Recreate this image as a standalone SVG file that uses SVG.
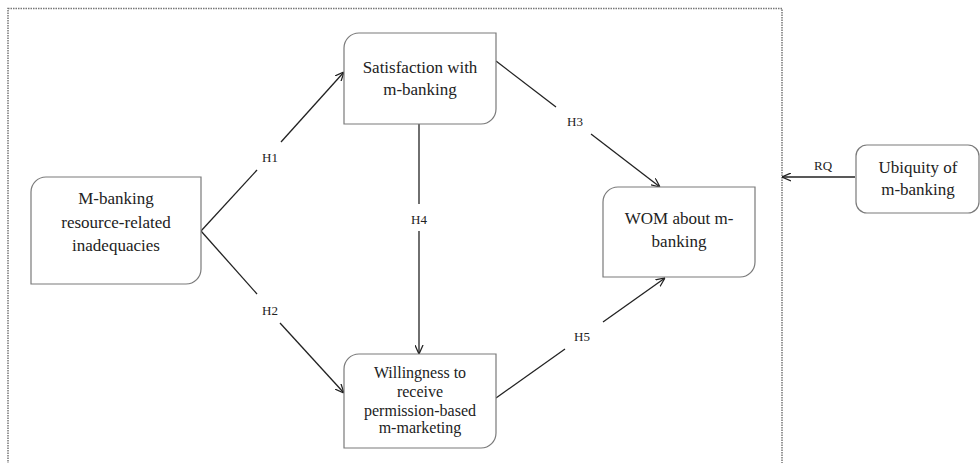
<svg xmlns="http://www.w3.org/2000/svg" width="980" height="463" viewBox="0 0 980 463">
<style>
.box{fill:#fff;stroke:#7a7a7a;stroke-width:1.2}
text{font-family:'Liberation Serif',serif}
.t{font-size:17px;fill:#222;text-anchor:middle}
.t16{font-size:16px}
.lab{font-size:13px;fill:#222;text-anchor:middle}
.c{stroke:#222;stroke-width:1.3;fill:none}
.frame{fill:none;stroke:#777;stroke-width:1.5;stroke-dasharray:1.5 1}
</style>
<defs>
<marker id="ah" viewBox="0 0 10 10" refX="10" refY="5" markerWidth="9" markerHeight="9" markerUnits="userSpaceOnUse" orient="auto">
<path d="M0,0.5 L10,5 L0,9.5" fill="none" stroke="#222" stroke-width="1.4"/>
</marker>
</defs>
<rect width="980" height="463" fill="#fff"/>
<rect id="frame" class="frame" x="8" y="8.5" width="774" height="470"/>

<g id="connectors" font-family="Liberation Serif, serif">
<g id="h1">
<line class="c" x1="201" y1="231" x2="257" y2="170"/>
<line class="c" x1="281" y1="142" x2="344" y2="72" marker-end="url(#ah)"/>
<text class="lab" x="270" y="162">H1</text>
</g>
<g id="h2">
<line class="c" x1="201" y1="231" x2="257" y2="294"/>
<line class="c" x1="280" y1="323" x2="344" y2="393" marker-end="url(#ah)"/>
<text class="lab" x="270" y="315">H2</text>
</g>
<g id="h4">
<line class="c" x1="419" y1="124" x2="419" y2="204"/>
<line class="c" x1="419" y1="231" x2="419" y2="354" marker-end="url(#ah)"/>
<text class="lab" x="419" y="224">H4</text>
</g>
<g id="h3">
<line class="c" x1="496" y1="61" x2="556" y2="107"/>
<line class="c" x1="591" y1="134" x2="660" y2="187" marker-end="url(#ah)"/>
<text class="lab" x="575" y="126">H3</text>
</g>
<g id="h5">
<line class="c" x1="496" y1="398" x2="565" y2="349"/>
<line class="c" x1="603" y1="322" x2="665" y2="278" marker-end="url(#ah)"/>
<text class="lab" x="582" y="341">H5</text>
</g>
<g id="rq">
<line class="c" x1="855" y1="177" x2="782" y2="177" marker-end="url(#ah)"/>
<text class="lab" x="823" y="170">RQ</text>
</g>
</g>

<g id="node-resource" font-family="Liberation Serif, serif">
<path class="box" d="M31,192 A15,15 0 0 1 46,177 H201 V269 A15,15 0 0 1 186,284 H31 Z"/>
<text class="t" x="116" y="204">M-banking</text>
<text class="t" x="116" y="228">resource-related</text>
<text class="t" x="116" y="251">inadequacies</text>
</g>

<g id="node-satisfaction" font-family="Liberation Serif, serif">
<path class="box" d="M344,48 A15,15 0 0 1 359,33 H496 V109 A15,15 0 0 1 481,124 H344 Z"/>
<text class="t" x="420" y="73">Satisfaction with</text>
<text class="t" x="420" y="95">m-banking</text>
</g>

<g id="node-willingness" font-family="Liberation Serif, serif">
<path class="box" d="M344,369 A15,15 0 0 1 359,354 H496 V433 A15,15 0 0 1 481,448 H344 Z"/>
<text class="t t16" x="420" y="378">Willingness to</text>
<text class="t t16" x="420" y="397">receive</text>
<text class="t t16" x="420" y="416">permission-based</text>
<text class="t t16" x="420" y="433">m-marketing</text>
</g>

<g id="node-wom" font-family="Liberation Serif, serif">
<path class="box" d="M603,202 A15,15 0 0 1 618,187 H755 V262 A15,15 0 0 1 740,277 H603 Z"/>
<text class="t" x="679" y="224">WOM about m-</text>
<text class="t" x="679" y="247">banking</text>
</g>

<g id="node-ubiquity" font-family="Liberation Serif, serif">
<rect class="box" x="856" y="145" width="123" height="68" rx="11" ry="11"/>
<text class="t" x="918" y="173">Ubiquity of</text>
<text class="t" x="918" y="195">m-banking</text>
</g>
</svg>
